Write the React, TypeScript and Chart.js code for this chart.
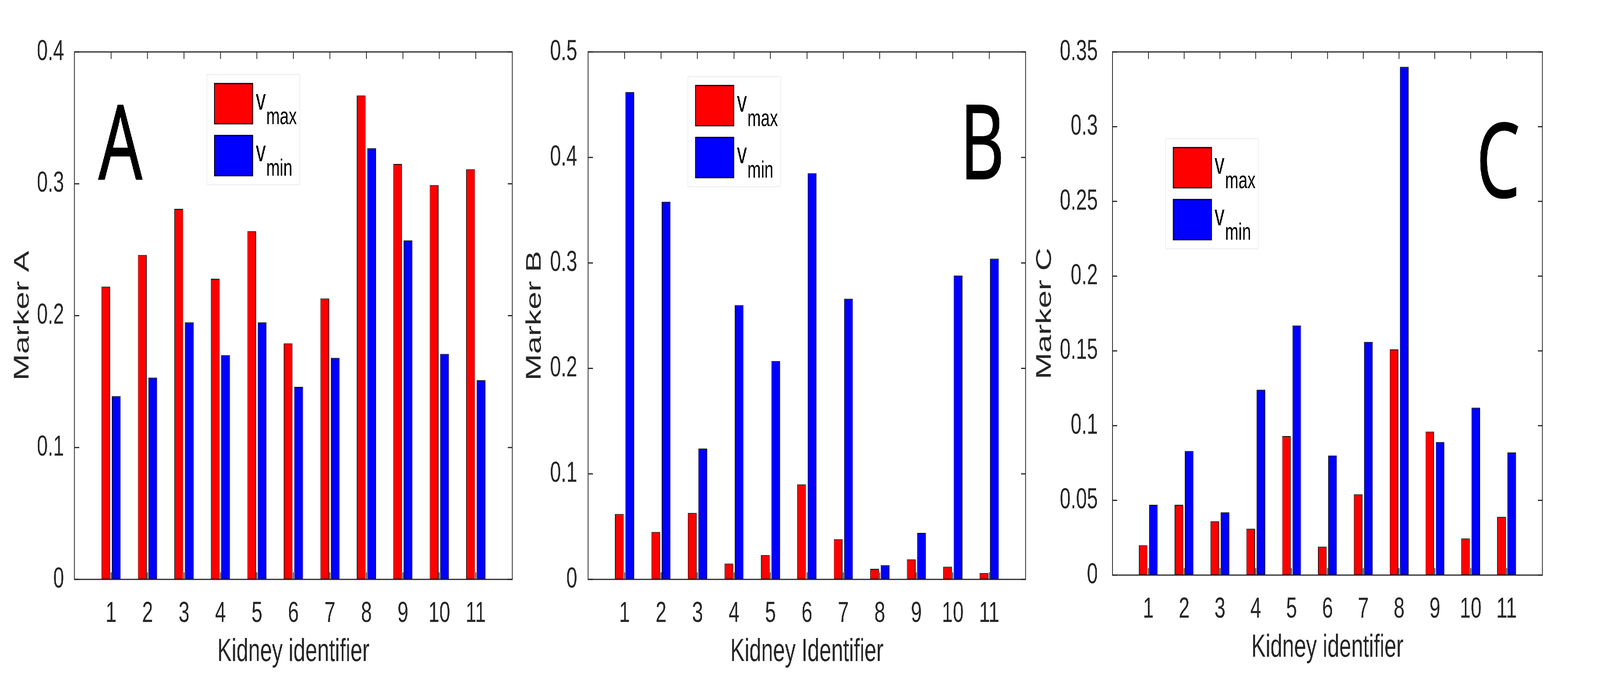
import { useEffect, useRef, useState } from "react";
import { Chart, registerables } from "chart.js";
Chart.register(...registerables);

// kidney ids on the x axis (same for all three panels)
const kidneyIds = ["1", "2", "3", "4", "5", "6", "7", "8", "9", "10", "11"];

// Marker A
const markerAVmax = [0.222, 0.246, 0.281, 0.228, 0.264, 0.179, 0.213, 0.367, 0.315, 0.299, 0.311];
const markerAVmin = [0.139, 0.153, 0.195, 0.170, 0.195, 0.146, 0.168, 0.327, 0.257, 0.171, 0.151];
// Marker B
const markerBVmax = [0.062, 0.045, 0.063, 0.015, 0.023, 0.090, 0.038, 0.010, 0.019, 0.012, 0.006];
const markerBVmin = [0.462, 0.358, 0.124, 0.260, 0.207, 0.385, 0.266, 0.0135, 0.044, 0.288, 0.304];
// Marker C
const markerCVmax = [0.020, 0.047, 0.036, 0.031, 0.093, 0.019, 0.054, 0.151, 0.096, 0.0245, 0.039];
const markerCVmin = [0.047, 0.083, 0.042, 0.124, 0.167, 0.080, 0.156, 0.340, 0.089, 0.112, 0.082];

const W = 6140;
const H = 1734;
const AXIS = "#262626";
const FONT = "'Liberation Sans', Arial, Helvetica, sans-serif";
const TICK = 18;

type Area = { left: number; right: number; top: number; bottom: number };
type PanelProps = {
  area: Area;
  yWidth: number;
  tickPad: number;
  yTitle: string;
  xTitle: string;
  yMax: number;
  yStep: number;
  vmax: number[];
  vmin: number[];
  letter: { text: string; x: number; y: number };
  legend: { x: number; y: number };
};

const decor = {
  id: "decor",
  afterDatasetsDraw(chart: any, _args: any, opts: any) {
    const { ctx, chartArea: a, scales } = chart;
    const x = scales.x;
    const y = scales.y;
    ctx.save();

    // inward ticks on all four sides
    ctx.strokeStyle = AXIS;
    ctx.lineWidth = 3;
    ctx.beginPath();
    for (let i = 1; i <= kidneyIds.length; i++) {
      const px = x.getPixelForValue(i);
      ctx.moveTo(px, a.bottom);
      ctx.lineTo(px, a.bottom - TICK);
      ctx.moveTo(px, a.top);
      ctx.lineTo(px, a.top + TICK);
    }
    y.ticks.forEach((_t: any, i: number) => {
      const py = y.getPixelForTick(i);
      ctx.moveTo(a.left, py);
      ctx.lineTo(a.left + TICK, py);
      ctx.moveTo(a.right, py);
      ctx.lineTo(a.right - TICK, py);
    });
    ctx.stroke();
    ctx.strokeRect(a.left, a.top, a.right - a.left, a.bottom - a.top);

    // panel letter
    ctx.fillStyle = "#000";
    ctx.strokeStyle = "#000";
    ctx.lineWidth = 3;
    ctx.font = "400 264px 'Open Sans', 'Noto Sans', sans-serif";
    ctx.textAlign = "center";
    ctx.textBaseline = "alphabetic";
    ctx.fillText(opts.letter.text, opts.letter.x, opts.letter.y);
    ctx.strokeText(opts.letter.text, opts.letter.x, opts.letter.y);

    // legend with subscripts
    const lx = opts.legend.x;
    const ly = opts.legend.y;
    ctx.fillStyle = "#fff";
    ctx.fillRect(lx, ly, 356, 282);
    ctx.strokeStyle = "#f0f0f0";
    ctx.lineWidth = 3;
    ctx.strokeRect(lx, ly, 356, 282);
    const rows = [
      { color: "#ff0000", sub: "max" },
      { color: "#0000ff", sub: "min" },
    ];
    rows.forEach((r, i) => {
      const oy = ly + 23 + i * 133;
      ctx.fillStyle = r.color;
      ctx.fillRect(lx + 29, oy, 147, 103);
      ctx.strokeStyle = "#000";
      ctx.lineWidth = 3;
      ctx.strokeRect(lx + 29, oy, 147, 103);
      ctx.fillStyle = "#000";
      ctx.textAlign = "left";
      ctx.font = `76px ${FONT}`;
      const base = ly + 90 + i * 132;
      ctx.fillText("v", lx + 188, base);
      const vw = ctx.measureText("v").width;
      ctx.font = `62px ${FONT}`;
      ctx.fillText(r.sub, lx + 190 + vw, base + 37);
    });
    ctx.restore();
  },
};

function Panel(p: PanelProps) {
  const ref = useRef<HTMLCanvasElement | null>(null);

  useEffect(() => {
    if (!ref.current) return;
    const labels = ["", ...kidneyIds, ""];
    const xHeight = 227;
    const chart = new Chart(ref.current, {
      type: "bar",
      data: {
        labels,
        datasets: [
          {
            label: "vmax",
            data: [null, ...p.vmax, null],
            backgroundColor: "#ff0000",
            borderColor: "#000",
            borderWidth: 2,
            borderSkipped: false,
          },
          {
            label: "vmin",
            data: [null, ...p.vmin, null],
            backgroundColor: "#0000ff",
            borderColor: "#000",
            borderWidth: 2,
            borderSkipped: false,
          },
        ],
      },
      options: {
        responsive: false,
        animation: false,
        devicePixelRatio: 1,
        categoryPercentage: 0.571,
        barPercentage: 0.84,
        layout: {
          padding: {
            left: p.area.left - p.yWidth,
            right: W - p.area.right,
            top: p.area.top,
            bottom: H - p.area.bottom - xHeight,
          },
        },
        plugins: {
          legend: { display: false },
          tooltip: { enabled: false },
          decor: { letter: p.letter, legend: p.legend },
        } as any,
        scales: {
          x: {
            offset: false,
            grid: { display: false },
            border: { display: false },
            ticks: {
              color: AXIS,
              font: { family: FONT, size: 75 },
              padding: 35,
              maxRotation: 0,
              autoSkip: false,
            },
            title: {
              display: true,
              text: p.xTitle,
              color: AXIS,
              font: { family: FONT, size: 82, lineHeight: 1 },
              padding: 0,
            },
            afterFit: (s: any) => {
              s.height = xHeight;
            },
          },
          y: {
            min: 0,
            max: p.yMax,
            grid: { display: false },
            border: { display: false },
            ticks: {
              stepSize: p.yStep,
              color: AXIS,
              font: { family: FONT, size: 75 },
              padding: p.tickPad,
              callback: (v: any) => String(Number(Number(v).toFixed(3))),
            },
            title: {
              display: true,
              text: p.yTitle,
              color: AXIS,
              font: { family: FONT, size: 82, lineHeight: 1 },
              padding: 0,
            },
            afterFit: (s: any) => {
              s.width = p.yWidth;
            },
          },
        },
      },
      plugins: [decor],
    });
    return () => chart.destroy();
  }, []);

  return (
    <canvas
      ref={ref}
      width={W}
      height={H}
      style={{ position: "absolute", left: 0, top: 0, width: W, height: H }}
    />
  );
}

export default function App() {
  // fit the 6140x1734 figure into the visible window if the viewport is smaller
  const [fit, setFit] = useState({ sx: 1, sy: 1 });
  useEffect(() => {
    const sx = Math.min(1, window.innerWidth / W);
    const sy = Math.min(1, window.innerHeight / H);
    setFit({ sx, sy });
  }, []);

  return (
    <div
      style={{
        position: "fixed",
        left: 0,
        top: 0,
        width: W,
        height: H,
        background: "#fff",
        overflow: "hidden",
        transformOrigin: "0 0",
        transform: `scale(${fit.sx}, ${fit.sy})`,
      }}
    >
      <Panel
        area={{ left: 286, right: 1966, top: 133, bottom: 1484 }}
        yWidth={240}
        tickPad={32}
        yTitle="Marker A"
        xTitle="Kidney identifier"
        yMax={0.4}
        yStep={0.1}
        vmax={markerAVmax}
        vmin={markerAVmin}
        letter={{ text: "A", x: 462, y: 459 }}
        legend={{ x: 794, y: 191 }}
      />
      <Panel
        area={{ left: 2257, right: 3936, top: 133, bottom: 1484 }}
        yWidth={246}
        tickPad={34}
        yTitle="Marker B"
        xTitle="Kidney Identifier"
        yMax={0.5}
        yStep={0.1}
        vmax={markerBVmax}
        vmin={markerBVmin}
        letter={{ text: "B", x: 3769, y: 458 }}
        legend={{ x: 2640, y: 196 }}
      />
      <Panel
        area={{ left: 4269, right: 5919, top: 133, bottom: 1473 }}
        yWidth={300}
        tickPad={48}
        yTitle="Marker C"
        xTitle="Kidney identifier"
        yMax={0.35}
        yStep={0.05}
        vmax={markerCVmax}
        vmin={markerCVmin}
        letter={{ text: "C", x: 5749, y: 505 }}
        legend={{ x: 4473, y: 355 }}
      />
    </div>
  );
}
